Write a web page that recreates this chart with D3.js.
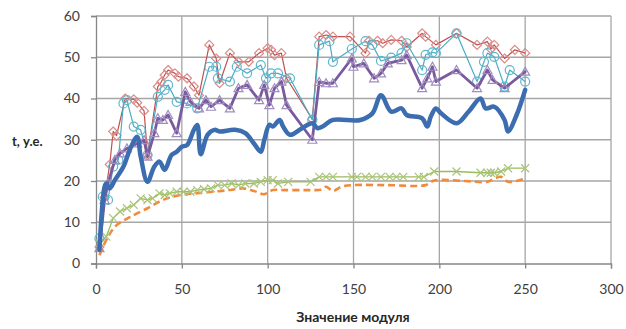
<!DOCTYPE html>
<html><head><meta charset="utf-8">
<script src="https://cdn.jsdelivr.net/npm/d3@7"></script>
<style>body{margin:0;background:#fff}svg{display:block}text{font-family:Lato,"Open Sans",sans-serif}</style>
</head><body><svg id="c" width="626" height="329"></svg>
<script>
const xTicks=[0,50,100,150,200,250,300];
const yTicks=[0,10,20,30,40,50,60];
const xTitle="Значение модуля";
const yTitle="t, у.е.";

const redX=[2,5,8,10,12,17,22,24,28,30,36,38,40,42,46,48,53,57,60,66,70,72,78,83,89,95,100,102,104,108,111,126,130,134,138,148,157,159,164,167,172,178,181,190,192,198,210,222,228,230,232,238,244,250];
const redY=[4,16,24,32,31,40,39.8,39,37,26.3,42.9,44,45.7,46.9,46.1,45.3,44.9,42.9,40.8,53,49.7,43.7,51,48.9,48.9,51,52.2,51.8,50.5,51,44.9,35,55,55.4,55,55,51,54,54,53.4,54.2,54,52.5,55.8,55,53,55.8,53,53.8,52,53,49.7,51.8,51];

const cyanX=[2,4,7,10,13,16,18,22,26,30,36,40,42,47,53,59,66,70,71,78,82,88,96,99,102,106,113,126,130,136,138,149,157,161,166,172,178,181,190,192,196,198,210,222,226,228,232,238,241,250];
const cyanY=[6.1,16.2,15.4,23.5,25.1,38.8,39.6,33.2,32.4,26.3,40.4,42.1,43.3,39.2,38.8,37.6,47.7,47.7,44.9,44.1,47.7,46.1,48.1,44.9,46.1,46.1,44.9,34.8,53,53.9,48.9,52,53.9,53,49.1,49.9,51,53.4,46.9,50.6,51.2,51,55.8,44.1,48.9,51,50.1,42.9,46.9,44.1];

const purpleX=[2,5,7,11,14,18,24,28,30,34,36,39,42,47,52,55,60,64,67,72,78,83,88,95,98,101,104,108,111,126,130,134,138,149,150,156,162,166,170,178,181,190,193,196,198,210,222,228,231,238,250];
const purpleY=[3.7,15.4,19.4,25.1,26.7,27.9,29.1,29.9,25.9,31.6,35.2,34.8,36,31.6,41.6,39.2,37.6,39.6,38,39.6,37.6,42.5,43.3,39.6,43.3,38.4,42.5,44.1,38.4,30,44,43.7,43.7,49.7,47.7,48.5,44.9,46.1,48.5,49.3,50.5,42.5,44.9,47.7,44.1,46.9,42.5,46.9,44.5,42.5,46.5];

const blueX=[2,5,6,8,11,16,20,24,26,30,34,37,40,44,47,50,53,57,59,61,65,69,72,81,87,92,96,98,101,103,107,109,113,120,126,129,132,138,154,161,166,172,178,181,190,193,195,198,201,210,217,224,227,232,238,240,245,250];
const blueY=[3.3,18.6,19.4,18.2,20.2,23.5,27.9,30.7,26,19.8,23.5,24.7,22.7,26.3,27.1,28.3,28.7,32.4,33.6,26.5,31.2,32.4,32,32.4,31.6,29.1,27.1,29.9,33.6,33.2,34.8,33.2,31.2,32.8,34,32.8,33.2,34.8,34.8,36.4,40.8,36.8,37.6,36,35.2,33.2,35.6,37.6,36.4,34,36.8,40,37.6,38,34.8,32,36,42.1];

const greenX=[2,6,10,14,18,22,26,30,33,37,40,43,47,51,55,59,63,67,71,75,79,83,87,92,96,100,103,106,112,125,130,134,138,149,152,157,161,166,171,175,179,188,191,197,210,224,228,230,232,236,240,250];
const greenY=[4.9,6.5,11,12.6,13.4,14.2,15.8,15.4,15.8,17,16.6,17,17.4,17.4,17.4,17.8,18,18.2,19,19,19.4,19,19.4,19.4,19.8,20.2,20.2,19.4,19.8,19.8,21,21,21,21,21,21,21,21,21,21,21,21,21,22.3,22.3,22,22,22,22,22.3,23.1,23.1];

const orangeX=[2,7,12,20,30,39,49,58,68,78,86,92,98,103,110,120,126,131,134,138,143,150,170,192,197,215,228,233,236,240,245,250];
const orangeY=[2,6.5,9.3,11.3,13.4,15.4,16.6,17,17.4,17.8,18.2,17.6,16.8,17.8,17.8,17.8,17.8,17.9,18.6,17.6,18.6,19,19,19,20.1,20,19.8,20.8,21,19.8,20,20.6];

const svg=d3.select("#c");
const x=d3.scaleLinear().domain([0,300]).range([96,611]);
const y=d3.scaleLinear().domain([0,60]).range([263.5,16]);
const grid="#a6a6a6", axisC="#868686";

svg.append("g").selectAll("line").data(yTicks.slice(1)).join("line")
 .attr("x1",x(0)).attr("x2",x(300)).attr("y1",d=>y(d)).attr("y2",d=>y(d))
 .attr("stroke",grid).attr("stroke-width",1.3);
svg.append("g").selectAll("line").data(xTicks.slice(1)).join("line")
 .attr("y1",y(0)).attr("y2",y(60)).attr("x1",d=>x(d)).attr("x2",d=>x(d))
 .attr("stroke",grid).attr("stroke-width",1.3);

const ya=svg.append("g").attr("transform",`translate(${x(0)},0)`)
 .call(d3.axisLeft(y).tickValues(yTicks).tickSize(5).tickPadding(11));
const xa=svg.append("g").attr("transform",`translate(0,${y(0)})`)
 .call(d3.axisBottom(x).tickValues(xTicks).tickSize(5).tickPadding(16));
[ya,xa].forEach(a=>{a.select(".domain").attr("stroke",axisC).attr("stroke-width",1.3);
 a.selectAll(".tick line").attr("stroke",axisC).attr("stroke-width",1.3);
 a.selectAll("text").attr("font-size",14).attr("fill","#404040").attr("font-family","Lato");});

svg.append("text").attr("x",353).attr("y",322).attr("text-anchor","middle")
 .attr("font-size",14).attr("font-weight","bold").attr("fill","#262626").text(xTitle);
svg.append("text").attr("x",12).attr("y",146)
 .attr("font-size",13).attr("font-weight","bold").attr("fill","#262626").text(yTitle);

function series(X,Y,color,width,opts){
 const data=X.map((v,i)=>[v,Y[i]]);
 const line=d3.line().x(d=>x(d[0])).y(d=>y(d[1]));
 if(opts.smooth) line.curve(d3.curveCatmullRom.alpha(0.5));
 const p=svg.append("path").datum(data).attr("d",line).attr("fill","none")
  .attr("stroke",color).attr("stroke-width",width).attr("stroke-linejoin","round").attr("stroke-linecap","round");
 if(opts.dash) p.attr("stroke-dasharray",opts.dash).attr("stroke-linecap","butt");
 if(opts.marker){
  const g=svg.append("g");
  data.forEach(d=>{
   const cx=x(d[0]), cy=y(d[1]);
   let m;
   if(opts.marker==="diamond") m=g.append("path").attr("d",`M${cx},${cy-4.5}L${cx+4.5},${cy}L${cx},${cy+4.5}L${cx-4.5},${cy}Z`);
   else if(opts.marker==="circle") m=g.append("circle").attr("cx",cx).attr("cy",cy).attr("r",4.5);
   else if(opts.marker==="triangle") m=g.append("path").attr("d",`M${cx},${cy-4.5}L${cx+4.5},${cy+3.5}L${cx-4.5},${cy+3.5}Z`);
   else if(opts.marker==="x") m=g.append("path").attr("d",`M${cx-4},${cy-4}L${cx+4},${cy+4}M${cx-4},${cy+4}L${cx+4},${cy-4}`);
   m.attr("fill","none").attr("stroke",opts.mcolor||color).attr("stroke-width",1.2);
  });
 }
}
series(orangeX,orangeY,"#f28a3c",2.6,{smooth:true,dash:"7,4"});
series(greenX,greenY,"#9bbb59",1.3,{marker:"x",mcolor:"#a9c57a"});
series(redX,redY,"#c0504d",1.2,{marker:"diamond",mcolor:"#d98c8a"});
series(cyanX,cyanY,"#4bacc6",1.2,{marker:"circle",mcolor:"#5eb6cc"});
series(purpleX,purpleY,"#7a5a9e",2.8,{marker:"triangle",mcolor:"#a08cc0"});
series(blueX,blueY,"#3b6db0",4.5,{smooth:true});
</script></body></html>
